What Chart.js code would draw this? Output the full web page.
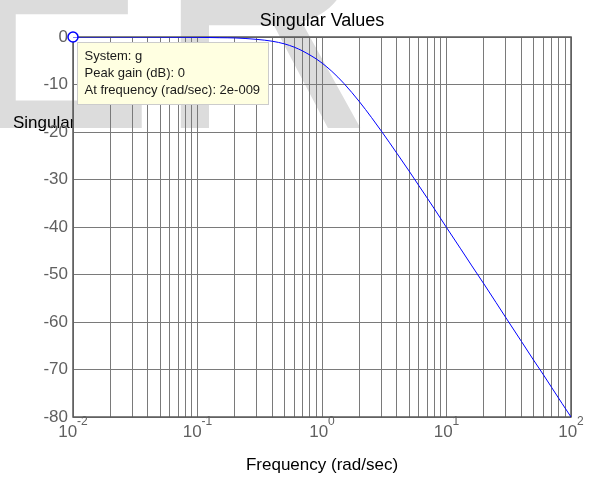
<!DOCTYPE html>
<html>
<head>
<meta charset="utf-8">
<script src="https://cdn.jsdelivr.net/npm/chart.js@4.4.1/dist/chart.umd.min.js"></script>
<style>
  html, body { margin: 0; padding: 0; background: #fff; }
  #wrap { width: 590px; height: 479px; }
</style>
</head>
<body>
<div id="wrap"><canvas id="sv" width="590" height="479"></canvas></div>
<script>
// singular values (rad/sec, dB)
const freq = [0.01, 0.02, 0.05, 0.1, 0.15, 0.2, 0.3, 0.4, 0.5, 0.6, 0.7, 0.8, 0.9, 1, 1.2, 1.5, 2, 2.5, 3, 4, 5, 6, 7, 8, 10, 13, 16, 20, 25, 30, 40, 50, 60, 70, 85, 100];
const gainDb = [0, 0, -0.02, -0.07, -0.15, -0.2, -0.5, -0.9, -1.45, -2.15, -2.95, -3.79, -4.62, -5.48, -7.23, -9.78, -13.64, -16.96, -19.82, -24.5, -28.2, -31.3, -33.9, -36.2, -40.1, -44.6, -48.2, -52.0, -55.9, -59.1, -64.1, -68.0, -71.1, -73.8, -77.2, -80.0];

// data tip marker (pinned to the left limit of the axes)
const peakFreq = 0.01;
const peakGain = 0;
const tipLines = ['System: g', 'Peak gain (dB): 0', 'At frequency (rad/sec): 2e-009'];

const xDecades = [0.01, 0.1, 1, 10, 100];
const xExponents = ['-2', '-1', '0', '1', '2'];
const xMinor = [2, 3, 4, 5, 6, 7, 8, 9];
const yTicks = [-80, -70, -60, -50, -40, -30, -20, -10, 0];
const yTickLabels = ['-80', '-70', '-60', '-50', '-40', '-30', '-20', '-10', '0'];

const FONT = '"Liberation Sans", Arial, sans-serif';
const GRID = '#7a7a7a';

const xTicks = [];
xDecades.forEach((d, i) => {
    xTicks.push(d);
    if (i < xDecades.length - 1) xMinor.forEach(m => xTicks.push(d * m));
});

const backdrop = {
    id: 'backdrop',
    beforeDraw(chart) {
        const ctx = chart.ctx;
        const area = chart.chartArea;
        // faint stamp behind the figure
        ctx.save();
        ctx.fillStyle = '#dcdcdc';
        ctx.font = '360px ' + FONT;
        ctx.textBaseline = 'alphabetic';
        ctx.translate(0, 128);
        ctx.save();
        ctx.scale(0.78, 1);
        ctx.fillText('E', -33.5 / 0.78, 0);
        ctx.restore();
        ctx.scale(0.84, 1);
        ctx.fillText('R', 156 / 0.84, 0);
        ctx.restore();

        // horizontal y label, mostly hidden behind the axes
        ctx.save();
        ctx.beginPath();
        ctx.rect(0, 0, area.left, chart.height);
        ctx.clip();
        ctx.fillStyle = '#000';
        ctx.font = '17px ' + FONT;
        ctx.textBaseline = 'alphabetic';
        ctx.fillText('Singular Values (dB)', 13, 128);
        ctx.restore();
    }
};

const frame = {
    id: 'frame',
    beforeDatasetsDraw(chart) {
        const a = chart.chartArea;
        const ctx = chart.ctx;
        ctx.save();
        ctx.strokeStyle = '#5a5a5a';
        ctx.lineWidth = 1.5;
        ctx.strokeRect(a.left, a.top, a.right - a.left, a.bottom - a.top);
        ctx.restore();
    }
};

const decadeLabels = {
    id: 'decadeLabels',
    afterDraw(chart) {
        const ctx = chart.ctx;
        const x = chart.scales.x;
        const bottom = chart.chartArea.bottom;
        ctx.save();
        ctx.fillStyle = '#606060';
        ctx.textBaseline = 'alphabetic';
        xDecades.forEach((v, i) => {
            ctx.font = '17px ' + FONT;
            const wb = ctx.measureText('10').width;
            ctx.font = '12px ' + FONT;
            const we = ctx.measureText(xExponents[i]).width;
            const left = x.getPixelForValue(v) - (wb + we) / 2;
            ctx.font = '17px ' + FONT;
            ctx.fillText('10', left, bottom + 20);
            ctx.font = '12px ' + FONT;
            ctx.fillText(xExponents[i], left + wb, bottom + 8);
        });
        ctx.restore();
    }
};

const dataTip = {
    id: 'dataTip',
    afterDatasetsDraw(chart) {
        const pt = chart.getDatasetMeta(1).data[0];
        const ctx = chart.ctx;
        const bx = Math.round(pt.x) + 4.5;
        const by = Math.round(pt.y) + 5.5;
        ctx.save();
        ctx.fillStyle = '#ffffe1';
        ctx.strokeStyle = '#cccccc';
        ctx.lineWidth = 1;
        ctx.fillRect(bx, by, 191, 62);
        ctx.strokeRect(bx, by, 191, 62);
        ctx.fillStyle = '#1a1a1a';
        ctx.font = '13px ' + FONT;
        ctx.textBaseline = 'middle';
        tipLines.forEach((t, i) => ctx.fillText(t, bx + 7, by + 14 + i * 17));
        ctx.restore();
    }
};

new Chart(document.getElementById('sv'), {
    type: 'line',
    data: {
        datasets: [{
            data: freq.map((f, i) => ({ x: f, y: gainDb[i] })),
            borderColor: '#0000ff',
            borderWidth: 1,
            pointRadius: 0,
            cubicInterpolationMode: 'monotone',
            fill: false
        }, {
            data: [{ x: peakFreq, y: peakGain }],
            showLine: false,
            pointRadius: 5,
            pointBorderWidth: 1.5,
            pointBackgroundColor: '#ffffff',
            pointBorderColor: '#0000ff',
            clip: false
        }]
    },
    options: {
        responsive: false,
        animation: false,
        events: [],
        layout: { padding: { left: 0, right: 19, top: 0, bottom: 0 } },
        plugins: {
            legend: { display: false },
            tooltip: { enabled: false },
            title: {
                display: true,
                fullSize: false,
                text: 'Singular Values',
                color: '#000',
                font: { family: FONT, size: 18, weight: 'normal' },
                padding: { top: 10, bottom: 5.4 }
            }
        },
        scales: {
            x: {
                type: 'logarithmic',
                min: 0.01,
                max: 100,
                afterBuildTicks: s => { s.ticks = xTicks.map(v => ({ value: v })); },
                afterFit: s => { s.height = 62; },
                ticks: { display: false },
                grid: { color: GRID, drawTicks: false },
                border: { display: false },
                title: {
                    display: true,
                    text: 'Frequency (rad/sec)',
                    color: '#000',
                    font: { family: FONT, size: 17 },
                    padding: { top: 0, bottom: 3 }
                }
            },
            y: {
                min: -80,
                max: 0,
                afterBuildTicks: s => { s.ticks = yTicks.map(v => ({ value: v })); },
                afterFit: s => { s.width = 73; },
                ticks: {
                    color: '#606060',
                    font: { family: FONT, size: 17 },
                    padding: 5,
                    callback: (v, i) => yTickLabels[i]
                },
                grid: { color: GRID, drawTicks: false },
                border: { display: false }
            }
        }
    },
    plugins: [backdrop, frame, decadeLabels, dataTip]
});
</script>
</body>
</html>
